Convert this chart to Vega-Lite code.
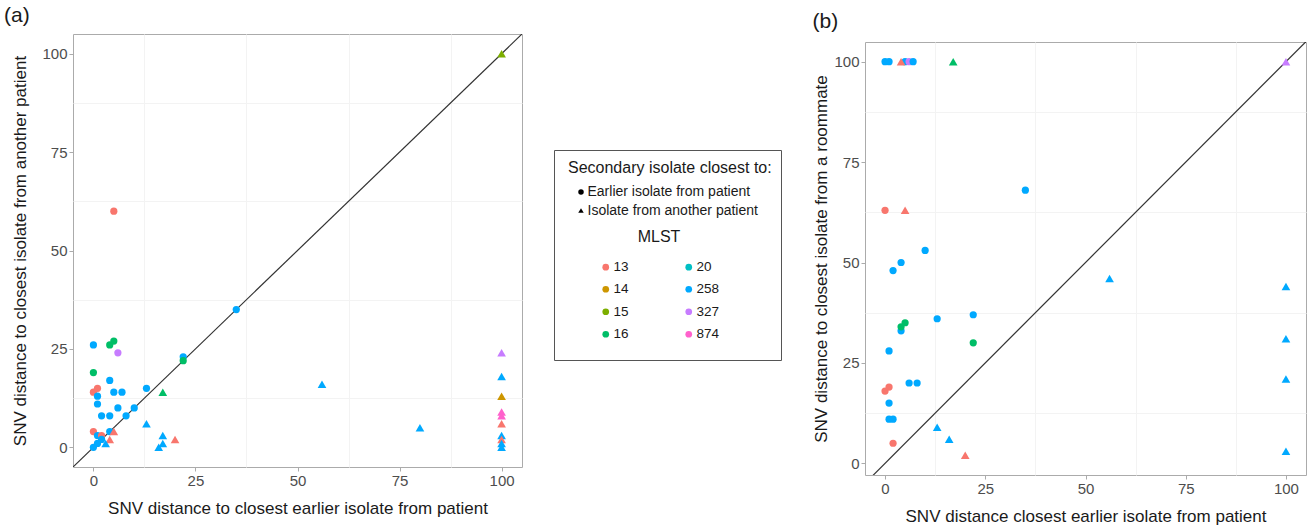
{
  "$schema": "https://vega.github.io/schema/vega-lite/v6.json",
  "padding": {"left": 3, "top": 4, "right": 5, "bottom": 5},
  "background": "white",
  "spacing": 30,
  "config": {
    "font": "Liberation Sans",
    "view": {"stroke": "#ABABAB", "strokeWidth": 1},
    "axis": {
      "labelFont": "Liberation Sans", "labelFontSize": 15, "labelColor": "#4D4D4D",
      "titleFont": "Liberation Sans", "titleFontSize": 17, "titleFontWeight": "normal", "titleColor": "#1A1A1A",
      "tickColor": "#ABABAB", "tickSize": 4, "labelPadding": 2, "domain": false,
      "gridColor": "#E6E6E6", "gridWidth": 1
    },
    "title": {"font": "Liberation Sans", "fontSize": 21, "fontWeight": "normal", "anchor": "start", "frame": "bounds", "color": "#1A1A1A"},
    "legend": {"labelFont": "Liberation Sans", "titleFont": "Liberation Sans", "titleFontWeight": "normal", "titleColor": "#1A1A1A", "labelColor": "#1A1A1A", "labelLimit": 300, "titleLimit": 300}
  },
  "datasets": {
    "a": [
      {"x": 0, "y": 26, "MLST": "258", "closest": "Earlier isolate from patient"},
      {"x": 4, "y": 26, "MLST": "16", "closest": "Earlier isolate from patient"},
      {"x": 5, "y": 27, "MLST": "16", "closest": "Earlier isolate from patient"},
      {"x": 6, "y": 24, "MLST": "327", "closest": "Earlier isolate from patient"},
      {"x": 22, "y": 23, "MLST": "258", "closest": "Earlier isolate from patient"},
      {"x": 22, "y": 22, "MLST": "16", "closest": "Earlier isolate from patient"},
      {"x": 0, "y": 19, "MLST": "16", "closest": "Earlier isolate from patient"},
      {"x": 4, "y": 17, "MLST": "258", "closest": "Earlier isolate from patient"},
      {"x": 0, "y": 14, "MLST": "13", "closest": "Earlier isolate from patient"},
      {"x": 1, "y": 15, "MLST": "13", "closest": "Earlier isolate from patient"},
      {"x": 5, "y": 14, "MLST": "258", "closest": "Earlier isolate from patient"},
      {"x": 7, "y": 14, "MLST": "258", "closest": "Earlier isolate from patient"},
      {"x": 13, "y": 15, "MLST": "258", "closest": "Earlier isolate from patient"},
      {"x": 1, "y": 13, "MLST": "258", "closest": "Earlier isolate from patient"},
      {"x": 1, "y": 11, "MLST": "258", "closest": "Earlier isolate from patient"},
      {"x": 6, "y": 10, "MLST": "258", "closest": "Earlier isolate from patient"},
      {"x": 10, "y": 10, "MLST": "258", "closest": "Earlier isolate from patient"},
      {"x": 8, "y": 8, "MLST": "258", "closest": "Earlier isolate from patient"},
      {"x": 2, "y": 8, "MLST": "258", "closest": "Earlier isolate from patient"},
      {"x": 4, "y": 8, "MLST": "258", "closest": "Earlier isolate from patient"},
      {"x": 0, "y": 4, "MLST": "13", "closest": "Earlier isolate from patient"},
      {"x": 4, "y": 4, "MLST": "258", "closest": "Earlier isolate from patient"},
      {"x": 1, "y": 3, "MLST": "258", "closest": "Earlier isolate from patient"},
      {"x": 2, "y": 3, "MLST": "13", "closest": "Earlier isolate from patient"},
      {"x": 0, "y": 0, "MLST": "258", "closest": "Earlier isolate from patient"},
      {"x": 1, "y": 1, "MLST": "258", "closest": "Earlier isolate from patient"},
      {"x": 2, "y": 2, "MLST": "258", "closest": "Earlier isolate from patient"},
      {"x": 35, "y": 35, "MLST": "258", "closest": "Earlier isolate from patient"},
      {"x": 5, "y": 60, "MLST": "13", "closest": "Earlier isolate from patient"},
      {"x": 5, "y": 4, "MLST": "13", "closest": "Isolate from another patient"},
      {"x": 4, "y": 2, "MLST": "13", "closest": "Isolate from another patient"},
      {"x": 3, "y": 1, "MLST": "258", "closest": "Isolate from another patient"},
      {"x": 13, "y": 6, "MLST": "258", "closest": "Isolate from another patient"},
      {"x": 17, "y": 14, "MLST": "16", "closest": "Isolate from another patient"},
      {"x": 17, "y": 3, "MLST": "258", "closest": "Isolate from another patient"},
      {"x": 17, "y": 1, "MLST": "258", "closest": "Isolate from another patient"},
      {"x": 16, "y": 0, "MLST": "258", "closest": "Isolate from another patient"},
      {"x": 20, "y": 2, "MLST": "13", "closest": "Isolate from another patient"},
      {"x": 56, "y": 16, "MLST": "258", "closest": "Isolate from another patient"},
      {"x": 80, "y": 5, "MLST": "258", "closest": "Isolate from another patient"},
      {"x": 100, "y": 100, "MLST": "15", "closest": "Isolate from another patient"},
      {"x": 100, "y": 24, "MLST": "327", "closest": "Isolate from another patient"},
      {"x": 100, "y": 18, "MLST": "258", "closest": "Isolate from another patient"},
      {"x": 100, "y": 13, "MLST": "14", "closest": "Isolate from another patient"},
      {"x": 100, "y": 9, "MLST": "874", "closest": "Isolate from another patient"},
      {"x": 100, "y": 8, "MLST": "874", "closest": "Isolate from another patient"},
      {"x": 100, "y": 6, "MLST": "13", "closest": "Isolate from another patient"},
      {"x": 100, "y": 3, "MLST": "258", "closest": "Isolate from another patient"},
      {"x": 100, "y": 2, "MLST": "13", "closest": "Isolate from another patient"},
      {"x": 100, "y": 1, "MLST": "258", "closest": "Isolate from another patient"},
      {"x": 100, "y": 0, "MLST": "258", "closest": "Isolate from another patient"}
    ],
    "b": [
      {"x": 0, "y": 100, "MLST": "258", "closest": "Earlier isolate from patient"},
      {"x": 1, "y": 100, "MLST": "258", "closest": "Earlier isolate from patient"},
      {"x": 5, "y": 100, "MLST": "258", "closest": "Earlier isolate from patient"},
      {"x": 6, "y": 100, "MLST": "327", "closest": "Earlier isolate from patient"},
      {"x": 7, "y": 100, "MLST": "258", "closest": "Earlier isolate from patient"},
      {"x": 35, "y": 68, "MLST": "258", "closest": "Earlier isolate from patient"},
      {"x": 0, "y": 63, "MLST": "13", "closest": "Earlier isolate from patient"},
      {"x": 10, "y": 53, "MLST": "258", "closest": "Earlier isolate from patient"},
      {"x": 4, "y": 50, "MLST": "258", "closest": "Earlier isolate from patient"},
      {"x": 2, "y": 48, "MLST": "258", "closest": "Earlier isolate from patient"},
      {"x": 13, "y": 36, "MLST": "258", "closest": "Earlier isolate from patient"},
      {"x": 22, "y": 37, "MLST": "258", "closest": "Earlier isolate from patient"},
      {"x": 4, "y": 33, "MLST": "258", "closest": "Earlier isolate from patient"},
      {"x": 5, "y": 35, "MLST": "16", "closest": "Earlier isolate from patient"},
      {"x": 4, "y": 34, "MLST": "16", "closest": "Earlier isolate from patient"},
      {"x": 22, "y": 30, "MLST": "16", "closest": "Earlier isolate from patient"},
      {"x": 1, "y": 28, "MLST": "258", "closest": "Earlier isolate from patient"},
      {"x": 6, "y": 20, "MLST": "258", "closest": "Earlier isolate from patient"},
      {"x": 8, "y": 20, "MLST": "258", "closest": "Earlier isolate from patient"},
      {"x": 1, "y": 19, "MLST": "13", "closest": "Earlier isolate from patient"},
      {"x": 0, "y": 18, "MLST": "13", "closest": "Earlier isolate from patient"},
      {"x": 1, "y": 15, "MLST": "258", "closest": "Earlier isolate from patient"},
      {"x": 1, "y": 11, "MLST": "258", "closest": "Earlier isolate from patient"},
      {"x": 2, "y": 11, "MLST": "258", "closest": "Earlier isolate from patient"},
      {"x": 2, "y": 5, "MLST": "13", "closest": "Earlier isolate from patient"},
      {"x": 4, "y": 100, "MLST": "13", "closest": "Isolate from another patient"},
      {"x": 17, "y": 100, "MLST": "16", "closest": "Isolate from another patient"},
      {"x": 100, "y": 100, "MLST": "327", "closest": "Isolate from another patient"},
      {"x": 5, "y": 63, "MLST": "13", "closest": "Isolate from another patient"},
      {"x": 56, "y": 46, "MLST": "258", "closest": "Isolate from another patient"},
      {"x": 13, "y": 9, "MLST": "258", "closest": "Isolate from another patient"},
      {"x": 16, "y": 6, "MLST": "258", "closest": "Isolate from another patient"},
      {"x": 20, "y": 2, "MLST": "13", "closest": "Isolate from another patient"},
      {"x": 100, "y": 44, "MLST": "258", "closest": "Isolate from another patient"},
      {"x": 100, "y": 31, "MLST": "258", "closest": "Isolate from another patient"},
      {"x": 100, "y": 21, "MLST": "258", "closest": "Isolate from another patient"},
      {"x": 100, "y": 3, "MLST": "258", "closest": "Isolate from another patient"}
    ],
    "diag": [{"d": -5}, {"d": 105}],
    "none": []
  },
  "resolve": {"legend": {"color": "independent", "shape": "independent", "size": "independent"}},
  "hconcat": [
    {
      "width": 449, "height": 433,
      "title": {"text": "(a)", "offset": 8, "dx": -8},
      "resolve": {"axis": {"x": "independent", "y": "independent"}},
      "layer": [
        {
          "data": {"name": "diag"},
          "mark": {"type": "line", "color": "#333333", "strokeWidth": 1.2, "clip": true},
          "encoding": {
            "x": {"field": "d", "type": "quantitative", "scale": {"domain": [-5, 105], "nice": false, "zero": false},
                  "axis": {"orient": "bottom", "values": [12.5, 37.5, 62.5, 87.5], "labels": false, "ticks": false, "title": null, "gridColor": "#F3F3F3"}},
            "y": {"field": "d", "type": "quantitative", "scale": {"domain": [-5, 105], "nice": false, "zero": false},
                  "axis": {"orient": "left", "values": [12.5, 37.5, 62.5, 87.5], "labels": false, "ticks": false, "title": null, "gridColor": "#F3F3F3"}}
          }
        },
        {
          "data": {"name": "a"},
          "mark": {"type": "point", "filled": true, "opacity": 1},
          "encoding": {
            "x": {"field": "x", "type": "quantitative", "scale": {"domain": [-5, 105], "nice": false, "zero": false},
                  "axis": {"orient": "bottom", "values": [0, 25, 50, 75, 100], "title": "SNV distance to closest earlier isolate from patient", "titlePadding": 12}},
            "y": {"field": "y", "type": "quantitative", "scale": {"domain": [-5, 105], "nice": false, "zero": false},
                  "axis": {"orient": "left", "values": [0, 25, 50, 75, 100], "title": "SNV distance to closest isolate from another patient", "titlePadding": 12}},
            "color": {"field": "MLST", "type": "nominal",
                      "scale": {"domain": ["13", "14", "15", "16", "20", "258", "327", "874"], "range": ["#F8766D", "#CD9600", "#7CAE00", "#00BE67", "#00BFC4", "#00A9FF", "#C77CFF", "#FF61CC"]},
                      "legend": null},
            "shape": {"field": "closest", "type": "nominal",
                      "scale": {"domain": ["Earlier isolate from patient", "Isolate from another patient"], "range": ["circle", "triangle-up"]},
                      "legend": null},
            "size": {"field": "closest", "type": "nominal",
                     "scale": {"domain": ["Earlier isolate from patient", "Isolate from another patient"], "range": [52, 75]},
                     "legend": null}
          }
        }
      ]
    },
    {
      "spacing": 0,
      "resolve": {"legend": {"color": "independent", "shape": "independent"}},
      "vconcat": [
        {
          "width": 10, "height": 115,
          "view": {"stroke": null},
          "data": {"name": "none"},
          "mark": "point"
        },
        {
          "width": 227, "height": 210,
          "view": {"stroke": "#555555", "strokeWidth": 1},
          "data": {"name": "a"},
          "mark": {"type": "point", "filled": true, "opacity": 0},
          "encoding": {
            "color": {"field": "MLST", "type": "nominal",
                      "scale": {"domain": ["13", "14", "15", "16", "20", "258", "327", "874"], "range": ["#F8766D", "#CD9600", "#7CAE00", "#00BE67", "#00BFC4", "#00A9FF", "#C77CFF", "#FF61CC"]},
                      "legend": {"orient": "none", "legendX": 45, "legendY": 79, "title": "MLST", "titleAnchor": "middle", "titleFontSize": 16,
                                 "columns": 2, "columnPadding": 53, "rowPadding": 7.5, "titlePadding": 15, "symbolType": "circle", "symbolSize": 45,
                                 "labelOffset": 1, "labelFontSize": 13.5, "symbolOpacity": 1, "symbolStrokeWidth": 0}},
            "shape": {"field": "closest", "type": "nominal",
                      "scale": {"domain": ["Earlier isolate from patient", "Isolate from another patient"], "range": ["circle", "triangle-up"]},
                      "legend": {"orient": "none", "legendX": 14, "legendY": 10, "title": "Secondary isolate closest to:", "titleFontSize": 16,
                                 "symbolFillColor": "black", "symbolStrokeColor": "black", "symbolStrokeWidth": 0, "symbolSize": 30, "symbolOffset": 6,
                                 "labelOffset": -0.5, "labelFontSize": 14, "rowPadding": 4.5, "titlePadding": 9, "symbolOpacity": 1}}
          }
        }
      ]
    },
    {
      "spacing": 0,
      "title": {"text": "(b)", "offset": 2},
      "vconcat": [
        {
          "width": 10, "height": 7,
          "view": {"stroke": null},
          "data": {"name": "none"},
          "mark": "point"
        },
        {
          "width": 441, "height": 433,
          "resolve": {"axis": {"x": "independent", "y": "independent"}},
          "layer": [
            {
              "data": {"name": "diag"},
              "mark": {"type": "line", "color": "#333333", "strokeWidth": 1.2, "clip": true},
              "encoding": {
                "x": {"field": "d", "type": "quantitative", "scale": {"domain": [-5, 105], "nice": false, "zero": false},
                      "axis": {"orient": "bottom", "values": [12.5, 37.5, 62.5, 87.5], "labels": false, "ticks": false, "title": null, "gridColor": "#F3F3F3"}},
                "y": {"field": "d", "type": "quantitative", "scale": {"domain": [-2.9, 104.9], "nice": false, "zero": false},
                      "axis": {"orient": "left", "values": [12.5, 37.5, 62.5, 87.5], "labels": false, "ticks": false, "title": null, "gridColor": "#F3F3F3"}}
              }
            },
            {
              "data": {"name": "b"},
              "mark": {"type": "point", "filled": true, "opacity": 1},
              "encoding": {
                "x": {"field": "x", "type": "quantitative", "scale": {"domain": [-5, 105], "nice": false, "zero": false},
                      "axis": {"orient": "bottom", "values": [0, 25, 50, 75, 100], "title": "SNV distance closest earlier isolate from patient", "titlePadding": 12}},
                "y": {"field": "y", "type": "quantitative", "scale": {"domain": [-2.9, 104.9], "nice": false, "zero": false},
                      "axis": {"orient": "left", "values": [0, 25, 50, 75, 100], "title": "SNV distance to closest isolate from a roommate", "titlePadding": 3}},
                "color": {"field": "MLST", "type": "nominal",
                          "scale": {"domain": ["13", "14", "15", "16", "20", "258", "327", "874"], "range": ["#F8766D", "#CD9600", "#7CAE00", "#00BE67", "#00BFC4", "#00A9FF", "#C77CFF", "#FF61CC"]},
                          "legend": null},
                "shape": {"field": "closest", "type": "nominal",
                          "scale": {"domain": ["Earlier isolate from patient", "Isolate from another patient"], "range": ["circle", "triangle-up"]},
                          "legend": null},
                "size": {"field": "closest", "type": "nominal",
                         "scale": {"domain": ["Earlier isolate from patient", "Isolate from another patient"], "range": [52, 75]},
                         "legend": null}
              }
            }
          ]
        }
      ]
    }
  ]
}
